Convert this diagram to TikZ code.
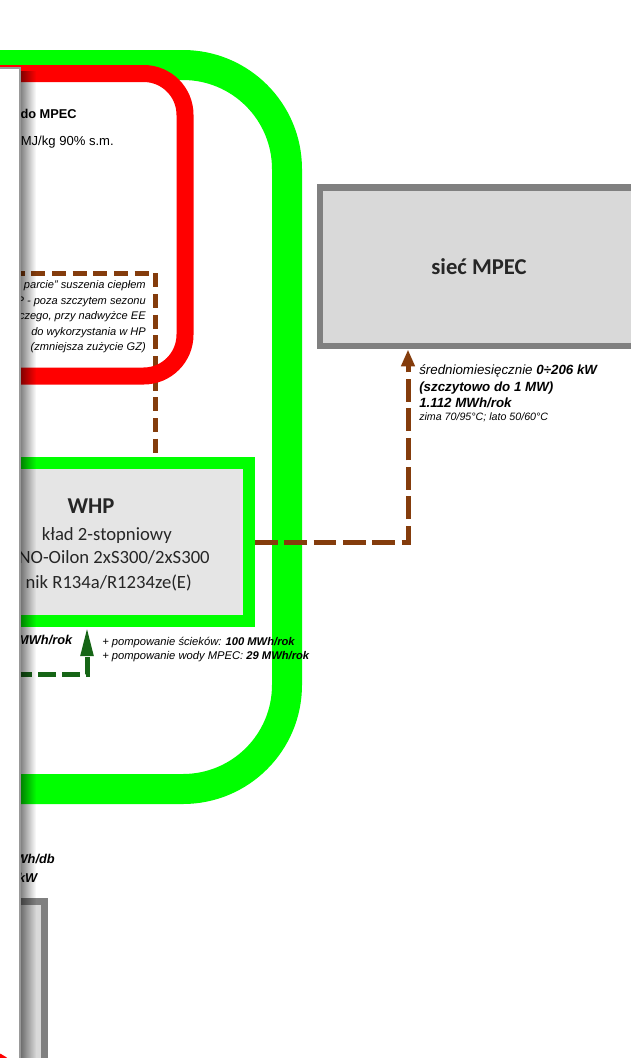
\documentclass[tikz,border=0pt]{standalone}
\usepackage{fontspec}
\setmainfont{Liberation Sans}
\newfontfamily\calibri{Carlito}
\usepackage{tikz}
\usetikzlibrary{arrows.meta,fadings}

\definecolor{loopgreen}{RGB}{0,255,0}
\definecolor{loopred}{RGB}{255,0,0}
\definecolor{heatbrown}{RGB}{132,60,12}
\definecolor{pumpgreen}{RGB}{22,101,22}
\definecolor{boxgray}{RGB}{128,128,128}
\definecolor{boxfill}{RGB}{217,217,217}
\definecolor{whpfill}{RGB}{229,229,229}

\tikzstyle{greenloop}=[
	draw=loopgreen,
	line width=22.5pt,
	rounded corners=78pt
]
\tikzstyle{redloop}=[
	draw=loopred,
	line width=12.75pt,
	rounded corners=31pt
]
\tikzstyle{mpecbox}=[
	rectangle,
	draw=boxgray,
	fill=boxfill,
	line width=5pt,
	inner sep=0pt
]
\tikzstyle{whpbox}=[
	rectangle,
	draw=loopgreen,
	fill=whpfill,
	line width=9pt,
	inner sep=0pt
]
\tikzstyle{heatflow}=[
	draw=heatbrown,
	line width=3.75pt,
	dash pattern=on 17pt off 5pt
]
\tikzstyle{dryflow}=[
	draw=heatbrown,
	line width=3.75pt,
	dash pattern=on 10.5pt off 5pt
]
\tikzstyle{pumpflow}=[
	draw=pumpgreen,
	line width=3.75pt,
	dash pattern=on 13.5pt off 4.5pt
]
\tikzstyle{note}=[
	inner sep=0pt,
	font=\fontsize{8.3}{10}\selectfont\itshape
]
\tikzstyle{lbl}=[
	inner sep=0pt,
	font=\fontsize{9.8}{12}\selectfont
]
\tikzstyle{whptext}=[
	inner sep=0pt,
	text=black!85,
	font=\calibri\fontsize{14}{17}\selectfont
]

\begin{document}
\begin{tikzpicture}[x=0.75pt,y=-0.75pt]
\useasboundingbox (0,0) rectangle (631,1058);
\clip (0,0) rectangle (631,1058);

% loops
\draw[greenloop] (-20,65) -- (287,65) -- (287,789) -- (-20,789);
\coordinate (dryin) at (-10,273);
\node[whpbox, minimum width=237pt, minimum height=118.5pt] (whp) at (91,542) {};
\draw[dryflow] (dryin) -| ([xshift=48pt]whp.north);
\draw[redloop] (-20,73.5) -- (185,73.5) -- (185,376) -- (-20,376);

% whp
\node[whptext, anchor=base, font=\calibri\fontsize{17}{19}\selectfont\bfseries] (whptitle) at (91,513.5) {WHP};
\node[whptext, anchor=base east] (whpl1) at (172,540.5) {kład 2-stopniowy};
\node[whptext, anchor=base east] (whpl2) at (210,563.5) {NO-Oilon 2xS300/2xS300};
\node[whptext, anchor=base east] (whpl3) at (192,588) {nik R134a/R1234ze(E)};

% siec
\node[mpecbox, minimum width=238.5pt, minimum height=119pt,
	font=\calibri\fontsize{17}{20}\selectfont\bfseries, text=black!85] (siec) at (479,266.75) {sieć MPEC};
\draw[heatflow, -{Triangle[length=12.75pt,width=9.75pt]}] (whp.east) -| ([xshift=-53.25pt]siec.south);

\node[lbl, anchor=base west, font=\fontsize{10}{12}\selectfont\itshape] (avgpower) at (419,374.5) {średniomiesięcznie \textbf{0÷206 kW}};
\node[lbl, anchor=base west, font=\fontsize{10}{12}\selectfont\itshape\bfseries] (peak) at (419,391.5) {(szczytowo do 1 MW)};
\node[lbl, anchor=base west, font=\fontsize{10}{12}\selectfont\itshape\bfseries] (yearly) at (419,407.5) {1.112 MWh/rok};
\node[lbl, anchor=base west, font=\fontsize{8}{10}\selectfont\itshape] (temps) at (419,420.5) {zima 70/95°C; lato 50/60°C};

% pumping
\coordinate (pumpin) at (-10,674);
\draw[pumpflow, -{Triangle[length=21.75pt,width=9pt]}] (pumpin) -| ([xshift=-3pt]whp.south);
\node[note, anchor=base west, font=\fontsize{8.4}{10}\selectfont\itshape] (pumpsew) at (102,645.5) {+ pompowanie ścieków: \textbf{100 MWh/rok}};
\node[note, anchor=base west, font=\fontsize{8.4}{10}\selectfont\itshape] (pumpwat) at (102,659.5) {+ pompowanie wody MPEC: \textbf{29 MWh/rok}};

% left side
\node[lbl, anchor=base east, font=\fontsize{9.6}{12}\selectfont\bfseries] (fuelto) at (77,118) {do MPEC};
\node[lbl, anchor=base east] (fuelval) at (114,145) {MJ/kg 90\% s.m.};
\foreach \txt [count=\i] in {{parcie” suszenia ciepłem},{P - poza szczytem sezonu},{czego, przy nadwyżce EE},{do wykorzystania w HP},{(zmniejsza zużycie GZ)}}
	\node[note, anchor=base east] (dry\i) at (146,{273+15.5*\i}) {\txt};
\node[lbl, anchor=base east, font=\fontsize{9.6}{12}\selectfont\itshape\bfseries] (whpyear) at (72.5,644.5) {MWh/rok};
\node[lbl, anchor=base east, font=\fontsize{9.6}{12}\selectfont\itshape\bfseries] (daily) at (55,863.5) {kWh/db};
\node[lbl, anchor=base east, font=\fontsize{9.6}{12}\selectfont\itshape\bfseries] (dailykw) at (37.5,882.5) {kW};
\node[mpecbox, minimum width=120pt, minimum height=150pt] (store) at (-35.5,1001.5) {};

% panel
\filldraw[fill=white, draw=black!40, line width=1pt] (-10,68) rectangle (20,1070);
\fill[black, opacity=0.5, path fading=east] (20.5,71) rectangle (36,1070);
\draw[loopred, line width=9pt] (-20,1055) arc[start angle=-90, end angle=0, radius=40];

\end{tikzpicture}
\end{document}
